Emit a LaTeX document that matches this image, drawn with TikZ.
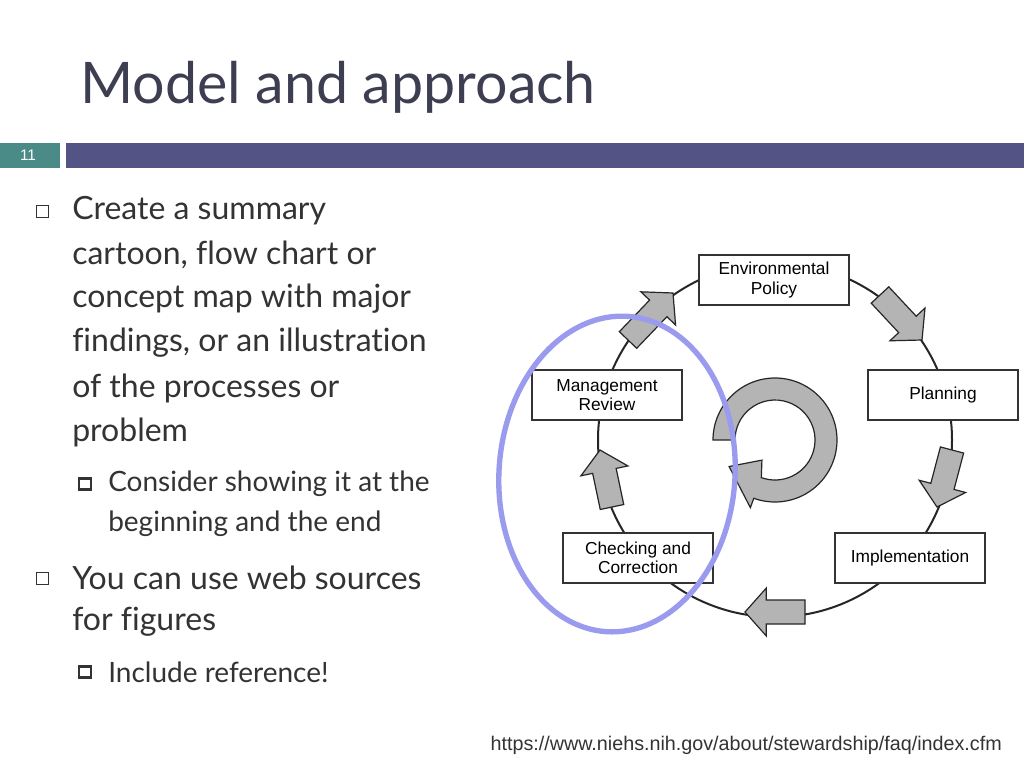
\documentclass[tikz,border=0pt]{standalone}
\usepackage{fontspec}
\setmainfont{Lato}[Ligatures={NoCommon}]
\newfontfamily\arial{Liberation Sans}
\usetikzlibrary{calc}
\definecolor{titlec}{HTML}{3E3E52}
\definecolor{bodyc}{HTML}{333333}
\definecolor{teal}{HTML}{4A8A87}
\definecolor{bar}{HTML}{535385}
\definecolor{ringc}{HTML}{9A9AEE}
\definecolor{arrg}{HTML}{B4B4B4}
\tikzset{
 box/.style={draw=black!80,line width=1.4pt,fill=white,minimum width=112pt,minimum height=38pt,align=center,font=\arial\fontsize{13}{14.5}\selectfont,inner sep=0pt},
 garr/.style={fill=arrg,draw=black!85,line width=0.9pt,line join=miter},
 bl/.style={anchor=west,text=bodyc,font=\fontsize{24}{28}\selectfont,inner sep=0pt},
 sbl/.style={anchor=west,text=bodyc,font=\fontsize{21}{25}\selectfont,inner sep=0pt},
}
\newcommand\blockarr[2]{%
 \coordinate (ta) at (#1); \coordinate (tb) at (#2);
 \coordinate (nk) at ($(tb)!16pt!(ta)$);
 \draw[garr] ($(ta)!9pt!90:(tb)$) -- ($(nk)!9pt!-90:(ta)$) -- ($(nk)!18pt!-90:(ta)$) -- (tb)
   -- ($(nk)!18pt!90:(ta)$) -- ($(nk)!9pt!90:(ta)$) -- ($(ta)!9pt!-90:(tb)$) -- cycle;}
\begin{document}
\begin{tikzpicture}[x=0.75pt,y=-0.75pt]
\useasboundingbox (0,0) rectangle (1024,768);
\fill[white] (0,0) rectangle (1024,768);
\node[anchor=base west,inner sep=0pt,text=titlec,font=\fontsize{43}{48}\selectfont] (title) at (80,103) {Model and approach};
\fill[teal] (0,143) rectangle (60,168);
\fill[bar] (66,143) rectangle (1024,168);
\node[text=white,font=\arial\fontsize{11.5}{13}\selectfont] (num) at (28,155.5) {11};
% bullets
\foreach \y in {211,578}{\draw[bodyc,line width=0.7pt] (36,\y-6) rectangle (48,\y+6);}
\foreach \y in {484,672}{\draw[bodyc,line width=2.2pt] (79,\y-5.5) rectangle (91,\y+5.5);}
\node[bl] (t1) at (72,211) {Create a summary};
\node[bl] (t2) at (72,255) {cartoon, flow chart or};
\node[bl] (t3) at (72,299) {concept map with major};
\node[bl] (t4) at (72,343) {findings, or an illustration};
\node[bl] (t5) at (72,388) {of the processes or};
\node[bl] (t6) at (72,432) {problem};
\node[sbl] (s1) at (108,484) {Consider showing it at the};
\node[sbl] (s2) at (108,524) {beginning and the end};
\node[bl] (t7) at (72,578) {You can use web sources};
\node[bl] (t8) at (72,622) {for figures};
\node[sbl] (s3) at (108,672) {Include reference!};
% cycle
\coordinate (c) at (775,440);
\draw[black!85,line width=1.5pt] (c) circle (177);
\blockarr{628,340}{673,293}
\blockarr{880,295}{922,340}
\blockarr{952,450}{937,507}
\blockarr{805,612}{745,612}
\blockarr{612,507}{600,450}
\draw[garr] ($(c)+(180:62)$) arc (180:470:62) -- ($(c)+(470:72)$) -- ($(c)+(150:53)$) -- ($(c)+(123:24)$) -- ($(c)+(470:40)$) arc (470:180:40) -- cycle;
\node[box] (env) at (774,280) {Environmental\\Policy};
\node[box] (plan) at (943,395) {Planning};
\node[box] (impl) at (910,558) {Implementation};
\node[box] (chk) at (638,558) {Checking and\\Correction};
\node[box] (mgmt) at (607,395) {Management\\Review};
\draw[ringc,line width=4pt] (617,474) ellipse [x radius=118,y radius=158,rotate=-4];
\node[anchor=base east,inner sep=0pt,text=bodyc,font=\arial\fontsize{14.8}{17}\selectfont] (url) at (1002,750) {https://www.niehs.nih.gov/about/stewardship/faq/index.cfm};
\end{tikzpicture}
\end{document}
